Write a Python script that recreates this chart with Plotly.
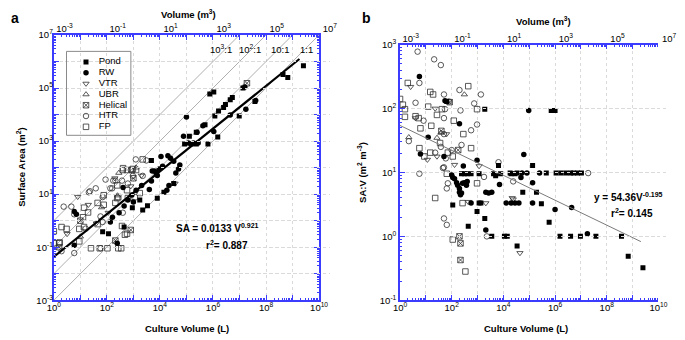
import numpy as np
import plotly.graph_objects as go

# ------------------------------------------------------------------
# DATA (values stored as log10: culture volume in L, SA in m^2, SA:V in m^2 m^-3)
# ------------------------------------------------------------------
series_names = ["Pond", "RW", "VTR", "UBR", "Helical", "HTR", "FP"]

# Panel a: (log10 volume L, log10 surface area m^2)
pond_a = [(9.41, 5.84), (8.82, 5.40), (8.64, 5.51), (5.88, 4.78), (6.03, 4.85), (7.13, 5.00),
          (6.07, 3.95), (6.21, 4.13), (6.40, 4.27), (6.47, 4.38), (6.65, 4.56), (6.73, 4.64),
          (5.70, 3.62), (5.37, 3.33), (5.11, 3.18), (6.18, 3.15), (6.99, 3.95), (7.58, 4.49),
          (4.93, 2.89), (5.18, 2.89), (5.37, 2.89), (5.81, 2.89), (3.68, 2.27), (4.52, 1.40),
          (4.15, 1.07), (3.90, 0.85), (3.53, 0.56), (3.24, 0.78), (3.35, 0.40), (2.96, 0.49),
          (2.65, -0.24), (2.06, -0.49), (1.84, -0.42)]
rw_a = [(5.00, 3.91), (6.03, 3.36), (6.65, 3.98), (7.24, 4.20), (7.61, 4.53), (7.20, 5.04),
        (5.62, 3.58), (5.40, 3.33), (4.89, 3.18), (5.07, 2.93), (5.26, 2.93), (5.44, 2.93),
        (4.52, 2.24), (4.40, 2.35), (4.70, 1.95), (4.60, 1.80), (4.75, 2.10), (4.30, 2.45),
        (4.04, 2.42), (3.79, 1.87), (3.90, 1.70), (3.71, 1.87), (3.86, 1.80), (3.97, 1.95),
        (4.10, 2.05), (4.26, 1.15), (4.34, 1.33), (3.60, 1.18), (3.68, 1.50), (3.31, 1.33),
        (3.10, 1.15), (2.94, 0.97), (2.79, 0.78), (2.61, 1.25), (2.21, 0.13), (2.13, -0.05),
        (2.46, 0.30), (0.77, 0.35), (0.85, 0.24), (0.77, -0.93), (2.39, -0.85), (2.65, 0.55),
        (3.00, 0.70)]
vtr_a = [(4.57, 1.40), (1.30, 0.60), (2.05, 0.30), (0.90, 0.90), (1.60, -0.10), (2.30, 1.60),
         (3.30, 1.70), (0.50, -0.50), (2.90, 1.30)]
ubr_a = [(2.45, 1.80), (1.80, 0.50), (1.00, -0.60), (2.40, 0.95), (3.10, 2.00)]
helical_a = [(7.28, 5.18), (2.32, -0.75), (1.00, 0.00), (0.20, -1.00), (3.00, 1.60), (2.90, -0.35)]
htr_a = [(3.49, 2.27), (3.09, 2.31), (2.79, 1.40), (2.20, 1.22), (0.66, 0.53), (1.36, 1.11),
         (1.58, 1.22), (2.24, 1.51), (2.13, 1.22), (2.57, 1.51), (2.98, 1.69), (2.90, 1.91),
         (1.76, 0.16), (1.84, -0.05), (0.77, -1.22), (0.29, -1.15), (1.76, -1.04), (0.37, 0.53),
         (0.77, 0.24), (1.32, 1.07), (1.95, 1.55), (2.32, 1.51), (3.35, 1.69), (1.84, 0.89),
         (2.60, 0.30), (1.20, -0.30)]
fp_a = [(1.40, -1.04), (1.73, -1.04), (2.02, -1.04), (2.43, -1.04), (2.54, -1.04), (0.00, -0.85),
        (0.20, -0.85), (0.96, -0.78), (2.68, -0.53), (2.60, 1.91), (2.76, 1.91), (2.94, 1.91),
        (3.10, 1.91), (0.29, -0.24), (0.48, -0.31), (0.96, -0.31), (1.14, -0.24), (1.65, -0.13),
        (2.57, -0.20), (2.76, -0.49), (0.22, -0.82), (1.14, 0.49), (1.10, 0.13), (1.88, 0.60),
        (2.39, 0.85), (2.76, 1.15), (2.79, 0.85), (3.05, 0.89), (3.24, 1.04), (2.61, 1.98),
        (2.98, 1.95), (2.39, 1.33), (1.88, 0.96), (3.35, 2.31), (1.29, 0.31), (1.65, 0.67),
        (2.32, 0.67), (2.43, 0.89), (0.00, -0.40)]

# Panel b: (log10 volume L, log10 SA:V)
pond_b = [(1.81, 2.11), (3.28, 1.99), (5.85, 1.97), (5.92, 1.97), (6.00, 1.97), (3.81, 1.11),
          (2.38, 0.98), (2.49, 0.98), (2.60, 0.98), (2.75, 0.98), (3.06, 0.98), (3.62, 0.98),
          (3.70, 0.95), (3.89, 0.98), (4.30, 0.98), (4.45, 0.98), (2.04, 0.49), (3.06, 0.52),
          (3.13, 0.52), (2.98, 0.39), (3.28, 0.28), (2.64, 0.16), (3.55, 0.00), (4.04, 0.00),
          (4.15, 0.00), (4.53, -0.15), (5.13, 1.11), (4.26, 0.99), (4.53, 0.99), (5.66, 0.99),
          (6.04, 0.99), (6.23, 0.99), (6.42, 0.99), (6.60, 0.99), (6.72, 0.99), (6.87, 0.99),
          (7.02, 0.99), (4.75, 0.69), (5.28, 0.69), (5.47, 0.51), (5.77, 0.22), (6.19, 0.00),
          (6.60, 0.00), (6.98, 0.00), (7.58, 0.00), (8.57, 0.00), (8.83, -0.31), (9.40, -0.49)]
rw_b = [(0.75, 2.50), (1.74, 2.12), (4.98, 1.97), (2.30, 1.76), (1.09, 1.55), (0.79, 1.29),
        (1.70, 1.25), (2.45, 1.10), (2.98, 1.19), (2.00, 0.96), (2.04, 0.92), (2.11, 0.90),
        (2.19, 0.84), (2.23, 0.80), (2.30, 0.75), (2.30, 0.69), (2.34, 0.65), (2.38, 0.68),
        (2.42, 0.83), (2.49, 0.84), (2.57, 0.80), (2.60, 0.86), (3.32, 0.69), (3.43, 0.68),
        (3.55, 0.69), (3.85, 0.81), (2.75, 0.52), (4.11, 0.52), (4.30, 0.52), (4.45, 0.52),
        (3.32, 0.10), (4.79, 1.28), (4.72, 0.99), (4.91, 0.99), (5.40, 0.99), (4.68, 0.92),
        (5.13, 0.84), (4.60, 0.52), (5.13, 0.52), (6.00, 0.42), (6.64, 0.45), (7.25, 0.04)]
vtr_b = [(0.41, 2.34), (1.36, 2.00), (0.60, 1.85), (1.43, 1.25), (2.11, 1.12), (3.06, 1.10),
         (2.64, 0.54), (3.32, 0.52), (4.34, 0.60), (4.38, 0.58), (4.64, -0.26), (1.06, 1.20),
         (1.80, 1.60)]
ubr_b = [(2.49, 2.22), (1.43, 1.54), (0.34, 1.55), (1.58, 1.62)]
helical_b = [(2.30, 0.00), (2.34, -0.11), (2.34, -0.37), (1.92, 2.10), (2.25, 1.35), (1.60, 1.65)]
htr_b = [(0.68, 2.89), (1.32, 2.77), (1.58, 2.68), (0.75, 2.40), (1.70, 2.22), (2.30, 2.29),
         (3.13, 2.22), (0.60, 2.09), (1.89, 2.11), (2.87, 2.08), (1.74, 1.99), (2.34, 1.97),
         (0.91, 1.81), (1.70, 1.85), (2.75, 1.66), (2.98, 1.75), (0.34, 1.49), (1.70, 1.60),
         (1.58, 1.40), (2.38, 1.43), (1.36, 1.31), (1.77, 1.22), (2.00, 1.35), (1.70, 1.08),
         (3.81, 1.16), (0.75, 0.98), (1.66, 1.07), (3.25, 0.93), (1.85, 0.83), (1.81, 0.75),
         (1.70, 0.28), (1.81, 0.18), (3.36, 0.00), (4.38, 0.86), (7.28, 0.99)]
fp_b = [(0.30, 2.40), (1.17, 2.26), (1.28, 2.22), (2.64, 2.35), (0.00, 2.15), (0.11, 2.06),
        (0.19, 1.99), (0.19, 1.87), (1.09, 2.03), (1.62, 1.99), (2.98, 1.99), (0.60, 1.88),
        (0.72, 1.85), (1.43, 1.90), (2.08, 1.81), (0.79, 1.69), (1.21, 1.73), (2.45, 1.60),
        (1.55, 1.46), (2.75, 1.38), (0.75, 1.38), (0.94, 1.25), (1.17, 1.31), (1.85, 1.31),
        (2.04, 1.25), (1.81, 0.98), (2.98, 0.83), (1.36, 0.60), (2.42, 0.52), (2.04, -0.05),
        (2.53, -0.55)]

# Ratio lines SA(m^2) : V(m^3) -> SA = k * V(L)
ratio_labels = ["10<sup>3</sup>:1", "10<sup>2</sup>:1", "10:1", "1:1"]
ratio_k = [1.0, 0.1, 0.01, 0.001]

# Fitted power laws as drawn (log10 intercept, exponent, log10 Vmax)
fit_a = (-1.36, 0.805, 9.26)
fit_b = (np.log10(54.36), -0.195, 9.32)
eq_a = "SA = 0.0133 V<sup>0.921</sup>"
r2_a = "r<sup>2</sup>= 0.887"
eq_b = "y = 54.36V<sup>-0.195</sup>"
r2_b = "r<sup>2</sup>= 0.145"

# ------------------------------------------------------------------
BLUE = "#3c3cff"
FONT = "Liberation Sans"
MK = "#303030"
W, H = 685, 340

styles = {
    "Pond": dict(symbol="square", size=5, color="black", line=dict(width=0)),
    "RW": dict(symbol="circle", size=5.5, color="black", line=dict(width=0)),
    "VTR": dict(symbol="triangle-down-open", size=5.5, color=MK, line=dict(width=0.8, color=MK)),
    "UBR": dict(symbol="triangle-up-open", size=5.5, color=MK, line=dict(width=0.8, color=MK)),
    "Helical": dict(symbol="square-x-open", size=5.5, color=MK, line=dict(width=0.8, color=MK)),
    "HTR": dict(symbol="circle-open", size=5.5, color=MK, line=dict(width=0.8, color=MK)),
    "FP": dict(symbol="square-open", size=5.5, color=MK, line=dict(width=0.8, color=MK)),
}

data_a = dict(zip(series_names, [pond_a, rw_a, vtr_a, ubr_a, helical_a, htr_a, fp_a]))
data_b = dict(zip(series_names, [pond_b, rw_b, vtr_b, ubr_b, helical_b, htr_b, fp_b]))

fig = go.Figure()

# ratio lines (panel a)
for k in ratio_k:
    fig.add_trace(go.Scatter(x=[1, 1e10], y=[k * 1, k * 1e10], mode="lines",
                             line=dict(color="#9a9a9a", width=0.8), xaxis="x", yaxis="y",
                             showlegend=False, hoverinfo="skip"))

draw_order = ["FP", "HTR", "Helical", "UBR", "VTR", "RW", "Pond"]
for name in draw_order:
    pts = data_a[name]
    fig.add_trace(go.Scatter(x=10 ** np.array([p[0] for p in pts]), y=10 ** np.array([p[1] for p in pts]),
                             mode="markers", marker=styles[name], xaxis="x", yaxis="y",
                             name=name, showlegend=False))
for name in draw_order:
    pts = data_b[name]
    fig.add_trace(go.Scatter(x=10 ** np.array([p[0] for p in pts]), y=10 ** np.array([p[1] for p in pts]),
                             mode="markers", marker=styles[name], xaxis="x2", yaxis="y2",
                             name=name, showlegend=False))

# fit lines
for fit, xa, ya, col, wd in [(fit_a, "x", "y", "black", 2.2), (fit_b, "x2", "y2", "#7a7a7a", 1)]:
    lv = np.linspace(0, fit[2], 50)
    fig.add_trace(go.Scatter(x=10 ** lv, y=10 ** (fit[0] + fit[1] * lv), mode="lines",
                             line=dict(color=col, width=wd), xaxis=xa, yaxis=ya,
                             showlegend=False, hoverinfo="skip"))

# manual legend (panel a) on an auxiliary pixel-like axis
idx = np.arange(len(series_names))
for i, name in enumerate(series_names):
    fig.add_trace(go.Scatter(x=[20], y=[11 + 11.2 * i], mode="markers", marker=styles[name],
                             xaxis="x7", yaxis="y4", showlegend=False, hoverinfo="skip"))
fig.add_trace(go.Scatter(x=[33] * len(series_names), y=11 + 11.2 * idx, mode="text",
                         text=series_names, textposition="middle right",
                         textfont=dict(family=FONT, size=9.5, color="black"),
                         xaxis="x7", yaxis="y4", showlegend=False, hoverinfo="skip"))

# invisible anchors so the label-only axes get drawn
for xa, ya in [("x3", "y"), ("x4", "y"), ("x", "y3"), ("x5", "y2"), ("x6", "y2")]:
    fig.add_trace(go.Scatter(x=[10], y=[10], mode="markers", marker=dict(opacity=0, size=1),
                             xaxis=xa, yaxis=ya, showlegend=False, hoverinfo="skip"))


def px_x(px):
    return px / W


def px_y(py):
    return 1 - py / H


def sup_label(e):
    return f"10<sup>{e}</sup>"


def minor_vals(lo, hi):
    return [m * 10.0 ** d for d in range(lo, hi) for m in range(2, 10)]


tickfont = dict(family=FONT, size=9.5, color="black")


def base_axis(lo, hi, domain, anchor, mirror, labels=False):
    vals = [10.0 ** e for e in range(lo, hi + 1)]
    return dict(type="log", range=[lo, hi], domain=domain, anchor=anchor,
                tickmode="array", tickvals=vals, ticktext=[sup_label(e) for e in range(lo, hi + 1)],
                showticklabels=labels, ticks="inside", ticklen=5,
                tickwidth=1, tickcolor=BLUE, showline=True, linecolor=BLUE, linewidth=1.6,
                mirror=mirror, tickfont=tickfont, zeroline=False,
                showgrid=True, gridcolor="#dadada", griddash="dot", gridwidth=1,
                minor=dict(tickmode="array", tickvals=minor_vals(lo, hi), ticks="inside",
                           ticklen=2.5, tickcolor=BLUE, showgrid=False))


def label_axis(lo, hi, side, anchor, domain, overlay=None):
    exps = list(range(lo, hi + 1, 2))
    d = dict(type="log", range=[lo, hi], side=side, anchor=anchor,
             domain=domain, tickmode="array", tickvals=[10.0 ** e for e in exps],
             ticktext=[sup_label(e) for e in exps], ticks="",
             showline=False, showgrid=False, tickfont=tickfont, zeroline=False)
    if overlay:
        d["overlaying"] = overlay
    return d


xa_dom = [px_x(47), px_x(319)]
xb_dom = [px_x(402), px_x(667)]
ya_dom = [px_y(304), px_y(29)]
yb_dom = [px_y(304), px_y(39)]
# top "Volume (m3)" labels sit ~11 px right of their ticks in the original
xa_top_dom = [px_x(58), px_x(330)]
xb_top_dom = [px_x(413), px_x(678)]

fig.update_layout(
    width=W, height=H, margin=dict(l=0, r=0, t=0, b=0),
    paper_bgcolor="white", plot_bgcolor="rgba(0,0,0,0)",
    font=dict(family=FONT, size=10, color="black"),
    xaxis=base_axis(0, 10, xa_dom, "y", "ticks"),
    yaxis=base_axis(-3, 7, ya_dom, "x", "ticks"),
    xaxis2=base_axis(0, 10, xb_dom, "y2", "ticks"),
    yaxis2=base_axis(-1, 3, yb_dom, "x2", False, labels=True),
    xaxis3=label_axis(0, 10, "bottom", "y", xa_dom, overlay="x"),
    xaxis4=label_axis(-3, 7, "top", "y", xa_top_dom),
    yaxis3=label_axis(-3, 7, "left", "x", ya_dom, overlay="y"),
    xaxis5=label_axis(0, 10, "bottom", "y2", xb_dom, overlay="x2"),
    xaxis6=label_axis(-3, 7, "top", "y2", xb_top_dom),
    xaxis7=dict(domain=[px_x(60), px_x(126)], range=[0, 66], anchor="y4", visible=False),
    yaxis4=dict(domain=[px_y(133), px_y(46)], range=[87, 0], anchor="x7", visible=False),
)

# legend box
fig.add_shape(type="rect", xref="paper", yref="paper", x0=px_x(60), x1=px_x(126),
              y0=px_y(133), y1=px_y(46), line=dict(color="#8a8a8a", width=1), layer="above")

ann = []


def text(s, x, y, size=10, bold=False, angle=0, xanchor="center"):
    ann.append(dict(text=f"<b>{s}</b>" if bold else s, x=px_x(x), y=px_y(y), xref="paper",
                    yref="paper", showarrow=False, xanchor=xanchor, yanchor="middle",
                    textangle=angle, font=dict(family=FONT, size=size, color="black")))


text("a", 7, 11, size=14, bold=True)
text("b", 368, 11, size=14, bold=True)
text("Volume (m<sup>3</sup>)", 185, 7, size=9.5, bold=True)
text("Volume (m<sup>3</sup>)", 549, 15, size=9.5, bold=True)
text("Culture Volume (L)", 184, 333, size=9.5, bold=True)
text("Culture Volume (L)", 531, 333, size=9.5, bold=True)
text("Surface Area (m<sup>2</sup>)", 13, 166, size=9.5, bold=True, angle=-90)
text("SA:V (m<sup>2</sup> m<sup>-3</sup>)", 363, 171, size=9.5, bold=True, angle=-90)
for lab, xc in zip(ratio_labels, [218, 248, 279, 306]):
    text(lab, xc, 44, size=9.5)
text(eq_a, 215, 229, size=10, bold=True)
text(r2_a, 225, 247, size=10, bold=True)
text(eq_b, 636, 197, size=10, bold=True)
text(r2_b, 640, 214, size=10, bold=True)
fig.update_layout(annotations=ann)

fig.write_html("out.html", config={"displayModeBar": False},
               post_script="document.body.style.margin='0';document.body.style.overflow='hidden';")
